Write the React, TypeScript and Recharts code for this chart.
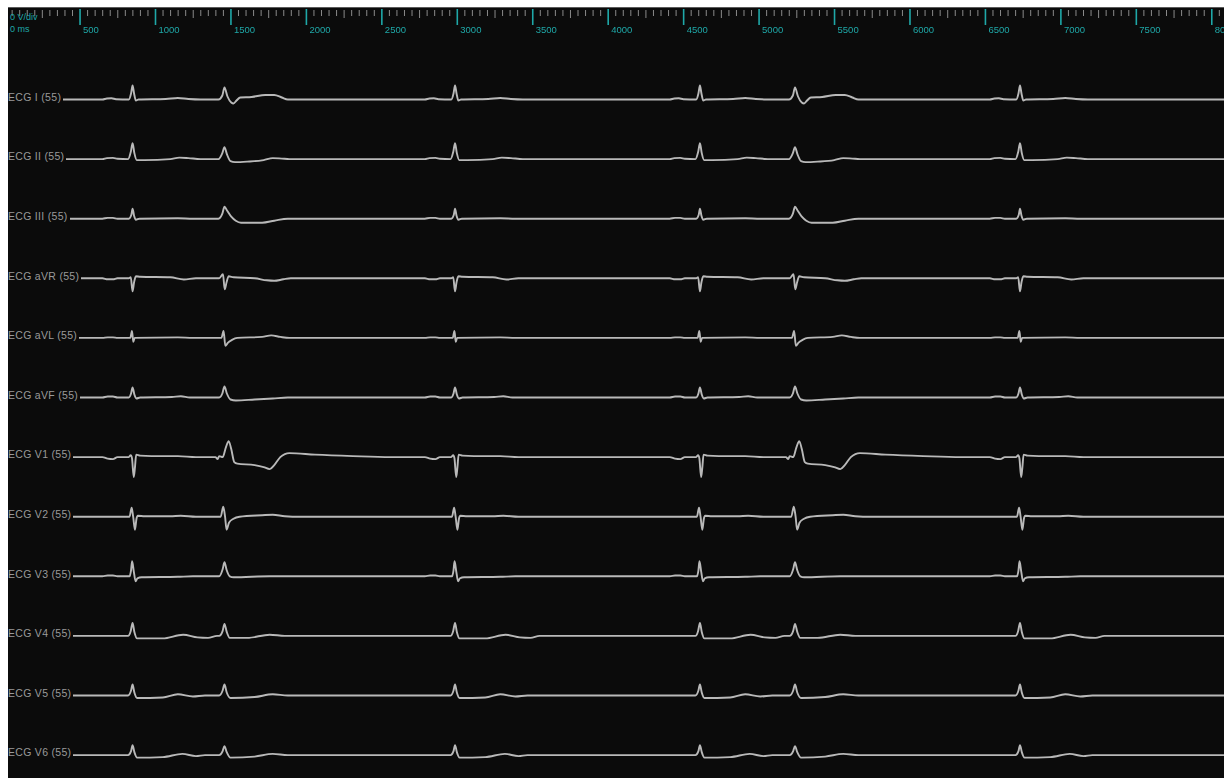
import React from "react";
import { LineChart, Line, XAxis, YAxis } from "recharts";

// beat times (ms) and type: N = sinus beat, V = premature wide beat
const BEAT_TIMES = [848, 1457, 2985, 4608, 5238, 6729];
const BEAT_KINDS = ["N", "V", "N", "N", "V", "N"];

const LEAD_NAMES = ["I", "II", "III", "aVR", "aVL", "aVF", "V1", "V2", "V3", "V4", "V5", "V6"];

// waveform shapes: [ms from R, amplitude]
const I_N = [[-200, 0], [-170, 1], [-140, 1.2], [-110, 0.3], [-25, 0], [-10, 6], [0, 14], [10, 6], [22, -1], [40, 0], [220, 0.5], [300, 1.5], [370, 0.5], [450, 0]];
const I_V = [[-40, 0], [-14, 4], [0, 12], [20, 3], [45, -3], [60, -4], [80, -1], [105, 2], [180, 2.5], [270, 4.5], [330, 4.5], [380, 2], [420, 0]];
const II_N = [[-200, 0], [-170, 1], [-130, 1.2], [-100, 0.3], [-30, 0], [-12, 7], [0, 16], [12, 6], [28, -1], [80, -1], [250, 0], [310, 1.5], [370, 1], [450, 0]];
const II_V = [[-40, 0], [-14, 6], [0, 12], [16, 5], [40, -2], [70, -3], [150, -2.5], [260, -1], [320, 1], [380, 0.5], [430, 0]];
const III_N = [[-200, 0], [-165, 0.8], [-130, 0.8], [-100, 0], [-25, 0], [-8, 4], [0, 10], [10, 3], [22, -1], [45, 0], [300, 0.5], [400, 0]];
const III_V = [[-40, 0], [-14, 5], [0, 12], [18, 8], [45, 2], [75, -2], [110, -4], [250, -4], [330, -2], [420, 0]];
const AVR_N = [[-200, 0], [-165, -1], [-130, -1], [-100, 0], [-25, 0], [-12, 1], [0, -13], [10, -4], [22, 2], [50, 1.5], [250, 1], [340, -1.2], [420, 0]];
const AVR_V = [[-35, 0], [-10, 4], [2, -11], [14, -4], [28, 2], [60, 1], [200, 0], [280, -2], [330, -2.5], [390, -1], [440, 0]];
const AVL_N = [[-200, 0], [-165, 0.5], [-130, 0.5], [-100, 0], [-15, 0], [-4, 7], [5, -4], [14, 0], [300, 0.5], [400, 0]];
const AVL_V = [[-20, 0], [-6, 7], [6, -8], [22, -5], [50, -2], [85, 0], [250, 1], [310, 2.5], [370, 1], [430, 0]];
const AVF_N = [[-200, 0], [-165, 1], [-130, 1], [-100, 0], [-25, 0], [-10, 4], [0, 10], [12, 3], [25, -1], [50, 0], [260, 0.5], [320, 1.2], [380, 0], [450, 0]];
const AVF_V = [[-35, 0], [-14, 4], [0, 11], [16, 4], [40, -2], [75, -3], [200, -2], [320, -1], [420, 0]];
const V1_N = [[-200, 0], [-165, -1.5], [-130, -2], [-100, 0], [-25, 0], [-12, 2], [-4, -1], [8, -20], [16, -10], [24, 2.5], [50, 1.5], [200, 1], [300, 1], [420, 0]];
const V1_V = [[-60, 0], [-45, -2], [-35, 1], [-12, 0], [10, 10], [28, 16], [45, 8], [65, -5], [85, -6.5], [200, -8], [260, -10], [300, -12], [330, -8], [370, 0], [400, 3], [430, 4], [600, 2.5], [850, 1], [1100, 0]];
const V2_N = [[-200, 0], [-20, 0], [-6, 9], [4, 0], [16, -13], [26, -2], [35, 1], [80, 0.5], [250, 0.5], [320, 1], [420, 0]];
const V2_V = [[-25, 0], [-8, 10], [4, 0], [14, -13], [30, -6], [60, -2], [100, 0], [250, 1.5], [320, 2], [400, 0.5], [500, 0]];
const V3_N = [[-200, 0], [-165, 0.8], [-130, 0.8], [-100, 0], [-20, 0], [-10, 6], [-3, 15], [8, 5], [20, -5], [32, -2], [60, -1], [300, -0.5], [400, 0]];
const V3_V = [[-35, 0], [-12, 7], [0, 14], [15, 6], [35, 0], [60, -1], [300, 0]];
const V4_N = [[-200, 0], [-30, 0], [-12, 5], [0, 13], [12, 4], [30, -2.5], [200, -2.5], [335, 1.2], [430, -1.5], [500, -2], [560, 0]];
const V4_V = [[-35, 0], [-12, 5], [0, 12], [15, 4], [35, -2], [150, -2], [300, 1.2], [400, 0]];
const V5_N = [[-200, 0], [-30, 0], [-10, 5], [0, 11], [12, 3], [30, -2.5], [200, -2], [300, 1.2], [400, -1], [480, 0]];
const V5_V = [[-35, 0], [-12, 5], [0, 11], [15, 3], [40, -2.5], [200, -1.5], [320, 1.2], [420, 0]];
const V6_N = [[-200, 0], [-30, 0], [-10, 4], [0, 10], [12, 3], [30, -2.5], [200, -2], [330, 1.2], [420, -1], [480, 0]];
const V6_V = [[-35, 0], [-12, 4], [0, 9], [15, 3], [40, -2.5], [200, -1.5], [320, 1.2], [420, 0]];

const NORMAL_SHAPES = [I_N, II_N, III_N, AVR_N, AVL_N, AVF_N, V1_N, V2_N, V3_N, V4_N, V5_N, V6_N];
const PVC_SHAPES = [I_V, II_V, III_V, AVR_V, AVL_V, AVF_V, V1_V, V2_V, V3_V, V4_V, V5_V, V6_V];

const MAJOR_TICKS = [0, 500, 1000, 1500, 2000, 2500, 3000, 3500, 4000, 4500, 5000, 5500, 6000, 6500, 7000, 7500, 8000];

const T_START = 0;
const T_END = 8100;

const W = 1216;
const H = 771;
const AXIS_H = 30;
const ROW_TOP = 91.5;
const ROW_STEP = 59.6;
const TRACE = "#b9b9b9";
const TEAL = "#1fa8a8";

function buildLead(i: number) {
  const pts: { t: number; v: number }[] = [{ t: T_START, v: 0 }];
  BEAT_TIMES.forEach((bt, k) => {
    const shape = BEAT_KINDS[k] === "V" ? PVC_SHAPES[i] : NORMAL_SHAPES[i];
    shape.forEach(([dt, a]) => pts.push({ t: bt + dt, v: a }));
  });
  pts.push({ t: T_END, v: 0 });
  return pts;
}

const leads = LEAD_NAMES.map((name, i) => ({ name, data: buildLead(i) }));

const axisTicks: number[] = [];
MAJOR_TICKS.forEach((m) => {
  for (let s = 0; s < 500; s += 50) axisTicks.push(m + s);
});

function AxisTick(props: any) {
  const { x, payload } = props;
  const v = payload.value;
  if (v % 500 === 0) {
    return (
      <g>
        <line x1={x} x2={x} y1={1} y2={17} stroke={TEAL} strokeWidth={1.6} />
        {v > 0 && (
          <text x={x + 3} y={25} fill={TEAL} fontSize={9.5} fontFamily="Liberation Sans, Arial, sans-serif">
            {v}
          </text>
        )}
      </g>
    );
  }
  const long = v % 250 === 0;
  return <line x1={x} x2={x} y1={2} y2={long ? 10 : 8} stroke="#8a8a8a" strokeWidth={1} />;
}

export default function App() {
  return (
    <div style={{ position: "relative", width: 1224, height: 778, background: "#fff", overflow: "hidden" }}>
      <style>{`body{margin:0}`}</style>
      <div
        style={{
          position: "absolute",
          left: 8,
          top: 7,
          width: W,
          height: H,
          background: "#0b0b0b",
          borderTop: "1px solid #5a5a5a",
          boxSizing: "border-box",
          fontFamily: "Liberation Sans, Arial, sans-serif",
        }}
      >
        <div style={{ filter: "blur(0.45px)" }}>
          <LineChart width={W} height={H} margin={{ top: 0, right: 0, bottom: 0, left: 0 }}>
            <XAxis
              type="number"
              dataKey="t"
              orientation="top"
              domain={[22.5, 8081]}
              allowDataOverflow
              ticks={axisTicks}
              interval={0}
              tick={<AxisTick />}
              tickLine={false}
              axisLine={false}
              height={AXIS_H}
            />
            <YAxis hide type="number" domain={[AXIS_H, H]} reversed allowDataOverflow />
            {leads.map((l, i) => (
              <Line
                key={l.name}
                data={l.data}
                dataKey={(d: any) => ROW_TOP + i * ROW_STEP - d.v}
                type="monotone"
                stroke={TRACE}
                strokeWidth={1.9}
                dot={false}
                activeDot={false}
                isAnimationActive={false}
              />
            ))}
          </LineChart>
        </div>
        <div style={{ position: "absolute", left: 2, top: 4, color: TEAL, fontSize: 9, lineHeight: "10px" }}>0 V/div</div>
        <div style={{ position: "absolute", left: 2, top: 16, color: TEAL, fontSize: 9, lineHeight: "10px" }}>0 ms</div>
        {leads.map((l, i) => (
          <span
            key={l.name}
            style={{
              position: "absolute",
              left: 0,
              top: ROW_TOP + i * ROW_STEP - 7.8,
              fontSize: 10.5,
              lineHeight: "10px",
              letterSpacing: 0.3,
              color: "#9a9a9a",
              background: "#0b0b0b",
              paddingRight: 2,
              whiteSpace: "nowrap",
            }}
          >
            {`ECG ${l.name} (55)`}
          </span>
        ))}
      </div>
    </div>
  );
}
